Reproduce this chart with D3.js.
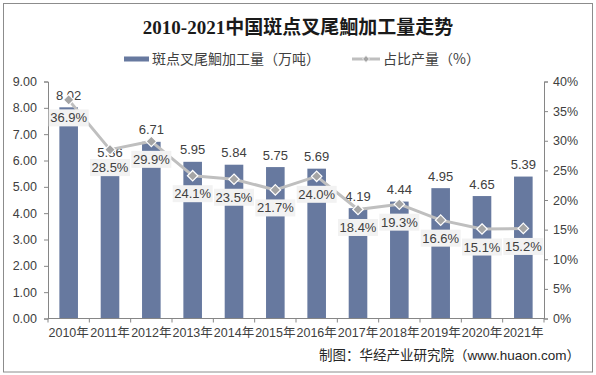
<!DOCTYPE html>
<html>
<head>
<meta charset="utf-8">
<script src="https://cdn.jsdelivr.net/npm/d3@7"></script>
<style>
  html, body { margin: 0; padding: 0; background: #fff; }
  svg { display: block; }
</style>
</head>
<body>
<svg id="chart" width="596" height="375"></svg>
<script>
const years = ["2010年","2011年","2012年","2013年","2014年","2015年","2016年","2017年","2018年","2019年","2020年","2021年"];
const volume = [8.02, 5.86, 6.71, 5.95, 5.84, 5.75, 5.69, 4.19, 4.44, 4.95, 4.65, 5.39];
const share = [36.9, 28.5, 29.9, 24.1, 23.5, 21.7, 24.0, 18.4, 19.3, 16.6, 15.1, 15.2];
const leftTicks = [0, 1, 2, 3, 4, 5, 6, 7, 8, 9];
const rightTicks = [0, 5, 10, 15, 20, 25, 30, 35, 40];
const titleText = "2010-2021中国斑点叉尾鮰加工量走势";
const legendBar = "斑点叉尾鮰加工量（万吨）";
const legendLine = "占比产量（%）";
const sourceText = "制图：华经产业研究院（www.huaon.com）";

(function () {
const barColor = "#67799f";
const lineColor = "#bfbfbf";
const markerColor = "#a5a5a5";
const textColor = "#404040";
const sansFont = "'Liberation Sans', Arial, 'Noto Sans CJK SC', sans-serif";

const svg = d3.select("#chart");
const pL = 48, pR = 544, pT = 81.5, pB = 318.5;

// frame
svg.append("rect").attr("x", 3.5).attr("y", 3.5).attr("width", 589).attr("height", 368.5)
  .attr("fill", "#fff").attr("stroke", "#8c8c8c").attr("stroke-width", 1);

const x = d3.scaleBand().domain(years).range([pL, pR]).paddingInner(0.55).paddingOuter(0.275);
const y = d3.scaleLinear().domain([0, 9]).range([pB, pT]);
const y2 = d3.scaleLinear().domain([0, 40]).range([pB, pT]);

// left axis
const gL = svg.append("g").attr("transform", `translate(${pL},0)`)
  .call(d3.axisLeft(y).tickValues(leftTicks).tickFormat(d3.format(".2f")).tickSize(4).tickPadding(7));
// right axis
const gR = svg.append("g").attr("transform", `translate(${pR},0)`)
  .call(d3.axisRight(y2).tickValues(rightTicks).tickFormat(d => d + "%").tickSize(4).tickPadding(5));
[gL, gR].forEach(g => {
  g.select(".domain").attr("stroke", "#868686");
  g.selectAll(".tick line").attr("stroke", "#868686");
  g.selectAll(".tick text").attr("fill", textColor).style("font-family", sansFont).style("font-size", "12.5px");
});

// bars
svg.append("g").selectAll("rect").data(volume).join("rect")
  .attr("x", (d, i) => x(years[i]))
  .attr("y", d => y(d))
  .attr("width", x.bandwidth())
  .attr("height", d => pB - y(d))
  .attr("fill", barColor);

// x axis
const xEdge = d3.scaleLinear().domain([0, years.length]).range([pL, pR]);
const gX = svg.append("g");
gX.append("line").attr("x1", pL).attr("x2", pR).attr("y1", pB).attr("y2", pB)
  .attr("stroke", "#868686");
gX.selectAll("line.tk").data(d3.range(years.length + 1)).join("line").attr("class", "tk")
  .attr("x1", d => xEdge(d)).attr("x2", d => xEdge(d))
  .attr("y1", pB).attr("y2", pB + 4).attr("stroke", "#868686");
gX.selectAll("text").data(years).join("text")
  .attr("x", d => x(d) + x.bandwidth() / 2)
  .attr("y", 333).attr("dy", "0.35em")
  .attr("text-anchor", "middle")
  .attr("fill", textColor)
  .style("font-family", sansFont).style("font-size", "12.5px")
  .text(d => d);

// bar value labels
svg.append("g").selectAll("text").data(volume).join("text")
  .attr("x", (d, i) => x(years[i]) + x.bandwidth() / 2)
  .attr("y", d => y(d) - 12).attr("dy", "0.35em")
  .attr("text-anchor", "middle").attr("fill", textColor)
  .style("font-family", sansFont).style("font-size", "13px")
  .text(d => d.toFixed(2));

// line
const cx = i => x(years[i]) + x.bandwidth() / 2;
const line = d3.line().x((d, i) => cx(i)).y(d => y2(d));
svg.append("path").datum(share).attr("d", line)
  .attr("fill", "none").attr("stroke", lineColor).attr("stroke-width", 3).attr("stroke-linejoin", "round");

// markers
svg.append("g").selectAll("path").data(share).join("path")
  .attr("transform", (d, i) => `translate(${cx(i)},${y2(d)})`)
  .attr("d", d3.symbol().type(d3.symbolDiamond2).size(70))
  .attr("fill", markerColor).attr("stroke", "#fff").attr("stroke-width", 1.2);

// percentage labels with boxes
const pl = svg.append("g").selectAll("g").data(share).join("g")
  .attr("transform", (d, i) => `translate(${cx(i)},${y2(d) + 18})`);
pl.append("rect").attr("x", -20).attr("y", -8.5).attr("width", 40).attr("height", 17).attr("fill", "#f2f2f2");
pl.append("text").attr("text-anchor", "middle").attr("dy", "0.35em").attr("fill", textColor)
  .style("font-family", sansFont).style("font-size", "13px")
  .text(d => d.toFixed(1) + "%");

// title
svg.append("text").attr("x", 298).attr("y", 27).attr("dy", "0.35em").attr("text-anchor", "middle")
  .attr("fill", "#1a1a1a")
  .style("font-family", "'Liberation Serif', 'Times New Roman', 'Noto Sans CJK SC', serif")
  .style("font-weight", "bold").style("font-size", "19px")
  .text(titleText);

// legend
const lg = svg.append("g");
lg.append("rect").attr("x", 124).attr("y", 56.5).attr("width", 25).attr("height", 5).attr("fill", barColor);
lg.append("text").attr("x", 152).attr("y", 59).attr("dy", "0.35em").attr("fill", textColor)
  .style("font-family", "'Noto Sans CJK SC', sans-serif").style("font-size", "14px").text(legendBar);
lg.append("line").attr("x1", 352).attr("x2", 380).attr("y1", 59).attr("y2", 59)
  .attr("stroke", lineColor).attr("stroke-width", 3);
lg.append("path").attr("transform", "translate(366,59)")
  .attr("d", d3.symbol().type(d3.symbolDiamond2).size(30))
  .attr("fill", markerColor).attr("stroke", "#fff").attr("stroke-width", 0.8);
lg.append("text").attr("x", 383).attr("y", 59).attr("dy", "0.35em").attr("fill", textColor)
  .style("font-family", "'Noto Sans CJK SC', sans-serif").style("font-size", "14px").text(legendLine);

// source
svg.append("text").attr("x", 319).attr("y", 355).attr("dy", "0.35em")
  .attr("fill", "#262626")
  .style("font-family", sansFont).style("font-size", "13.5px").text(sourceText);
})();
</script>
</body>
</html>
